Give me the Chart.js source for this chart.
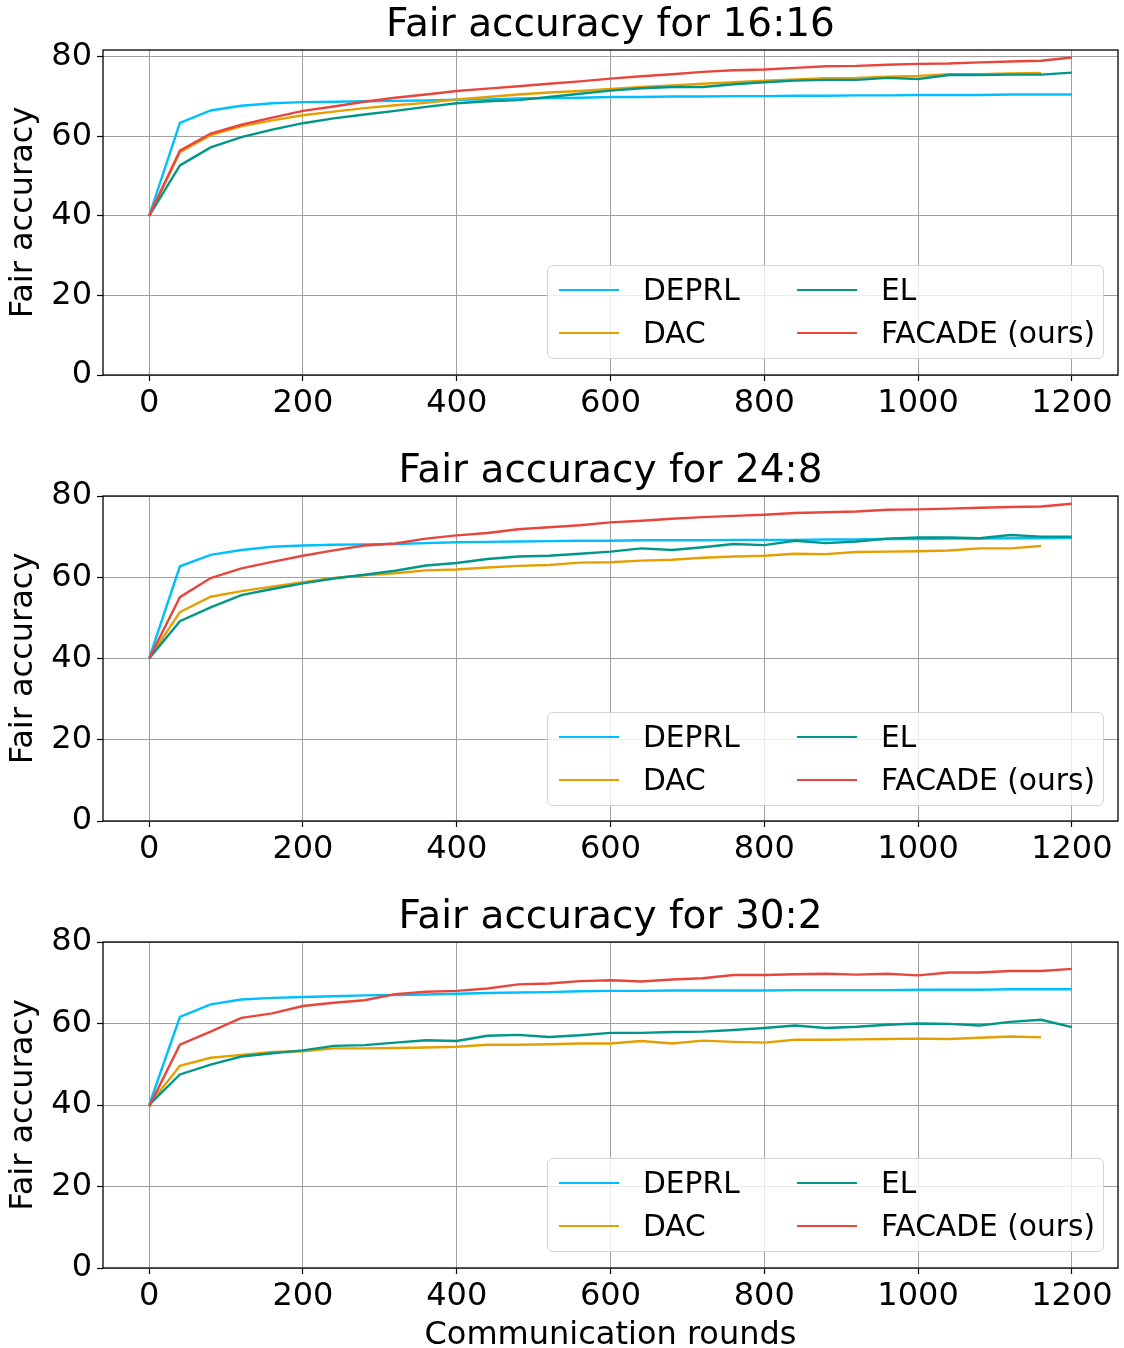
<!DOCTYPE html>
<html>
<head>
<meta charset="utf-8">
<script src="https://cdn.jsdelivr.net/npm/chart.js@4.4.0/dist/chart.umd.min.js"></script>
<style>
html,body{margin:0;padding:0;background:#fff;}
#wrap{position:relative;width:1124px;height:1348px;overflow:hidden;}
.panel{position:absolute;left:0;width:1124px;}
.panel canvas{display:block;}
.legend{position:absolute;left:547px;width:557px;height:94px;box-sizing:border-box;border:1px solid #d4d4d4;border-radius:6px;background:rgba(255,255,255,0.8);font-family:'DejaVu Sans';font-size:29.7px;color:#000;}
.item{position:absolute;height:0;width:0;}
.sw{position:absolute;left:0;width:60px;height:2.5px;top:-1.25px;}
.lab{position:absolute;left:84px;top:0;transform:translateY(-50%);line-height:1;white-space:nowrap;}
</style>
</head>
<body>
<div id="wrap"></div>
<script>
// ---- data ----
const rounds = [0,40,80,120,160,200,240,280,320,360,400,440,480,520,560,600,640,680,720,760,800,840,880,920,960,1000,1040,1080,1120,1160,1200];
const xTicks = [0,200,400,600,800,1000,1200];
const yTicks = [0,20,40,60,80];
const seriesNames = ['DEPRL','DAC','EL','FACADE (ours)'];
const seriesColors = ['#00bfff','#e69f00','#009688','#e8453c'];
const titles = ['Fair accuracy for 16:16','Fair accuracy for 24:8','Fair accuracy for 30:2'];

const deprl_16 = [40.0,63.4,66.5,67.7,68.3,68.6,68.7,68.8,68.9,69.0,69.2,69.3,69.5,69.6,69.7,69.9,69.9,70.0,70.0,70.1,70.1,70.2,70.2,70.3,70.3,70.4,70.4,70.4,70.5,70.5,70.5];
const dac_16   = [40.0,56.0,60.3,62.5,64.0,65.3,66.2,67.1,67.8,68.4,69.3,69.9,70.5,71.0,71.4,71.9,72.4,72.8,73.2,73.6,74.0,74.3,74.6,74.7,75.0,75.2,75.6,75.6,75.8,75.9];
const el_16    = [40.0,52.7,57.2,59.8,61.7,63.3,64.5,65.5,66.4,67.4,68.3,68.8,69.1,69.9,70.7,71.5,72.1,72.4,72.4,73.1,73.6,74.0,74.2,74.2,74.7,74.4,75.4,75.4,75.5,75.5,76.0];
const facade_16= [40.0,56.4,60.7,62.9,64.7,66.4,67.5,68.7,69.7,70.5,71.4,72.0,72.6,73.2,73.8,74.5,75.1,75.6,76.2,76.6,76.8,77.2,77.6,77.7,78.0,78.2,78.3,78.6,78.8,79.0,79.8];

const deprl_24 = [40.0,62.7,65.5,66.7,67.5,67.8,68.0,68.1,68.2,68.4,68.6,68.7,68.8,68.9,69.0,69.0,69.1,69.1,69.1,69.2,69.2,69.2,69.3,69.3,69.4,69.4,69.5,69.5,69.6,69.6,69.7];
const dac_24   = [40.0,51.4,55.2,56.6,57.7,58.8,59.8,60.5,61.0,61.7,61.9,62.4,62.8,63.0,63.6,63.7,64.1,64.3,64.8,65.1,65.3,65.8,65.7,66.2,66.3,66.4,66.6,67.1,67.1,67.7];
const el_24    = [40.0,49.2,52.6,55.6,57.1,58.5,59.7,60.6,61.6,62.9,63.5,64.5,65.1,65.3,65.8,66.3,67.1,66.7,67.4,68.2,67.9,69.0,68.4,68.8,69.5,69.8,69.8,69.6,70.4,70.0,70.0];
const facade_24= [40.0,55.1,59.8,62.2,63.8,65.3,66.6,67.8,68.3,69.5,70.3,70.9,71.8,72.3,72.8,73.5,73.9,74.4,74.8,75.1,75.4,75.8,76.0,76.2,76.6,76.7,76.9,77.1,77.3,77.4,78.1];

const deprl_30 = [40.0,61.6,64.7,65.9,66.3,66.5,66.7,66.9,67.0,67.1,67.3,67.5,67.6,67.7,67.9,68.0,68.0,68.1,68.1,68.1,68.1,68.2,68.2,68.2,68.2,68.3,68.3,68.3,68.4,68.4,68.4];
const dac_30   = [40.0,49.6,51.6,52.3,53.0,53.2,53.9,53.9,54.0,54.1,54.3,54.8,54.8,54.9,55.1,55.1,55.7,55.1,55.8,55.5,55.3,56.0,56.0,56.1,56.2,56.3,56.2,56.5,56.8,56.6];
const el_30    = [40.0,47.5,49.9,51.9,52.7,53.4,54.5,54.7,55.3,55.9,55.7,57.0,57.2,56.7,57.1,57.7,57.7,57.9,58.0,58.4,58.9,59.5,58.9,59.2,59.7,60.0,59.9,59.5,60.4,60.9,59.1];
const facade_30= [39.6,54.8,58.0,61.4,62.5,64.3,65.1,65.7,67.2,67.8,68.0,68.6,69.6,69.8,70.4,70.6,70.3,70.8,71.1,71.9,71.9,72.1,72.2,72.0,72.2,71.8,72.5,72.5,72.9,72.9,73.4];

const yMaxes = [81.7, 80, 80];

// ---- layout ----
const FONT = "'DejaVu Sans'";
Chart.defaults.font.family = FONT;
Chart.defaults.color = '#000';

const panels = [
  {top:0,   height:446, series:[deprl_16,dac_16,el_16,facade_16], xh:71, xlabel:false},
  {top:446, height:446, series:[deprl_24,dac_24,el_24,facade_24], xh:71, xlabel:false},
  {top:892, height:456, series:[deprl_30,dac_30,el_30,facade_30], xh:80, xlabel:true}
];

const framePlugin = {
  id:'frame',
  afterDatasetsDraw(chart){
    const {ctx, chartArea:a} = chart;
    ctx.save();
    ctx.strokeStyle = '#000';
    ctx.lineWidth = 1.3;
    ctx.strokeRect(a.left, a.top, a.right - a.left, a.bottom - a.top);
    ctx.restore();
  }
};

const wrap = document.getElementById('wrap');

panels.forEach((p, idx) => {
  const div = document.createElement('div');
  div.className = 'panel';
  div.style.top = p.top + 'px';
  div.style.height = p.height + 'px';
  const cv = document.createElement('canvas');
  cv.width = 1124; cv.height = p.height;
  cv.style.width = '1124px'; cv.style.height = p.height + 'px';
  div.appendChild(cv);
  wrap.appendChild(div);

  const datasets = p.series.map((vals, k) => ({
    label: seriesNames[k],
    data: vals.map((v, i) => ({x: rounds[i], y: v})),
    borderColor: seriesColors[k],
    backgroundColor: seriesColors[k],
    borderWidth: 2.4,
    pointRadius: 0,
    tension: 0,
    fill: false,
    order: 3 - k
  }));

  new Chart(cv, {
    type: 'line',
    data: {datasets},
    plugins: [framePlugin],
    options: {
      responsive: false,
      animation: false,
      devicePixelRatio: 1,
      layout: {padding: {left:0, right:6, top:0, bottom:0}},
      plugins: {
        legend: {display:false},
        tooltip: {enabled:false},
        title: {
          display: true, text: titles[idx], fullSize: false,
          font: {family: FONT, size: 39, weight: 'normal', lineHeight: 1},
          color: '#000', padding: {top: 6, bottom: 5}
        }
      },
      scales: {
        x: {
          type: 'linear', min: -60, max: 1260,
          afterBuildTicks: s => { s.ticks = xTicks.map(v => ({value: v})); },
          afterFit: s => { s.height = p.xh; },
          ticks: {font: {family: FONT, size: 32, lineHeight: 1.2}, color: '#000', padding: 3, maxRotation: 0, autoSkip: false, callback: v => String(v)},
          grid: {color: '#a0a0a0', lineWidth: 1, tickLength: 6, tickColor: '#000', tickWidth: 1.2},
          border: {display: false},
          title: {display: p.xlabel, text: 'Communication rounds', font: {family: FONT, size: 32, lineHeight: 0.75}, color: '#000', padding: {top: 0, bottom: 0}}
        },
        y: {
          type: 'linear', min: 0, max: yMaxes[idx],
          afterBuildTicks: s => { s.ticks = yTicks.map(v => ({value: v})); },
          afterFit: s => { s.width = 103; },
          ticks: {font: {family: FONT, size: 32, lineHeight: 1.2}, color: '#000', padding: 5, autoSkip: false, callback: v => String(v)},
          grid: {color: '#a0a0a0', lineWidth: 1, tickLength: 6, tickColor: '#000', tickWidth: 1.2},
          border: {display: false},
          title: {display: true, text: 'Fair accuracy', font: {family: FONT, size: 32, lineHeight: 1}, color: '#000', padding: {top: 8, bottom: 0}}
        }
      }
    }
  });

  // legend (HTML overlay inside plot area, lower right)
  const lg = document.createElement('div');
  lg.className = 'legend';
  lg.style.top = (p.top + 265 + (idx === 0 ? 0 : 1)) + 'px';
  const order = [[0, 11, 24], [1, 11, 67], [2, 249, 24], [3, 249, 67]];
  order.forEach(([k, lx, ty]) => {
    const it = document.createElement('div');
    it.className = 'item';
    it.style.left = lx + 'px';
    it.style.top = ty + 'px';
    const sw = document.createElement('div');
    sw.className = 'sw';
    sw.style.background = seriesColors[k];
    const lab = document.createElement('div');
    lab.className = 'lab';
    lab.textContent = seriesNames[k];
    it.appendChild(sw); it.appendChild(lab);
    lg.appendChild(it);
  });
  wrap.appendChild(lg);
});
</script>
</body>
</html>
